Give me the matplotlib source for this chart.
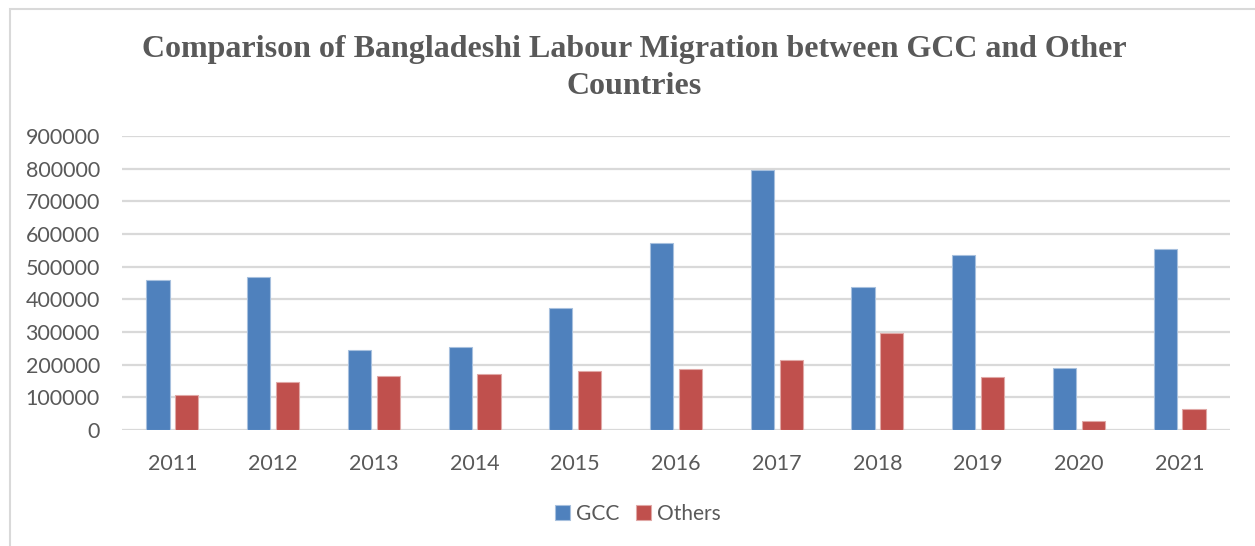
import numpy as np
import matplotlib.pyplot as plt
import matplotlib.patches as patches

years = ['2011', '2012', '2013', '2014', '2015', '2016', '2017', '2018', '2019', '2020', '2021']
gcc = [460000, 468000, 244000, 255000, 375000, 571000, 795000, 437000, 537000, 189000, 553000]
others = [107000, 148000, 165000, 171000, 180000, 186000, 213000, 296000, 162000, 28000, 63000]

W, H = 1255, 546
fig = plt.figure(figsize=(W / 100, H / 100), dpi=100)

# plot area in pixels: left 122, right 1230, top 136, bottom 430
ax = fig.add_axes([122 / W, 1 - 430 / H, (1230 - 122) / W, (430 - 136) / H])

x = np.arange(len(years))
bw = 0.23
ax.bar(x - 0.143, gcc, bw, color='#4F81BD', edgecolor='#A7C0DE', linewidth=0.8, zorder=3, label='GCC')
ax.bar(x + 0.143, others, bw, color='#C0504D', edgecolor='#E0A8A6', linewidth=0.8, zorder=3, label='Others')

ax.set_xlim(-0.5, len(years) - 0.5)
ax.set_ylim(0, 900000)
ax.set_yticks(np.arange(0, 900001, 100000))
ax.set_yticklabels([str(v) for v in range(0, 900001, 100000)])
ax.set_xticks(x)
ax.set_xticklabels(years)
ax.grid(axis='y', color='#d9d9d9', linewidth=1.6, zorder=0)
for s in ax.spines.values():
    s.set_visible(False)
ax.tick_params(length=0, labelsize=15.5, labelcolor='#595959')
ax.tick_params(axis='y', pad=16)
ax.tick_params(axis='x', pad=17)
for lab in ax.get_xticklabels() + ax.get_yticklabels():
    lab.set_fontfamily('Lato')

fig.text(634 / W, 1 - 49 / H, 'Comparison of Bangladeshi Labour Migration between GCC and Other',
         ha='center', va='center', fontsize=23, fontweight='bold', color='#595959',
         family='Liberation Serif')
fig.text(634 / W, 1 - 86 / H, 'Countries',
         ha='center', va='center', fontsize=23, fontweight='bold', color='#595959',
         family='Liberation Serif')

leg = fig.legend(loc='center', bbox_to_anchor=(638 / W, 1 - 514 / H), ncol=2, frameon=False,
                 prop={'family': 'Lato', 'size': 15}, handlelength=0.7, handleheight=0.7,
                 handletextpad=0.3, columnspacing=0.8)
for t in leg.get_texts():
    t.set_color('#595959')

# outer chart border (only left and top edges visible)
fig.patches.append(patches.Rectangle((10 / W, -0.2), 1.2, 1.2 - 9 / H, transform=fig.transFigure,
                                     fill=False, edgecolor='#d9d9d9', linewidth=1.5))

fig.savefig('out.png', dpi=100)
